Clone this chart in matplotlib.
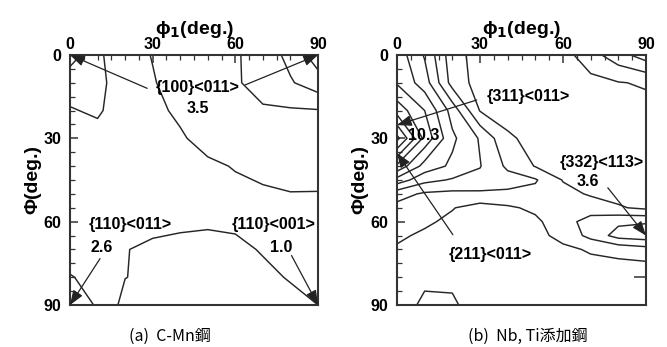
import matplotlib
matplotlib.use("Agg")
import matplotlib.pyplot as plt
import numpy as np
from matplotlib.ticker import MultipleLocator

plt.rcParams['font.family'] = ['Liberation Sans', 'DejaVu Sans']
plt.rcParams['font.weight'] = 'bold'
plt.rcParams['axes.labelweight'] = 'bold'
plt.rcParams['mathtext.default'] = 'bf'

# phi2 = 45 deg sections of the ODF, read on a coarse grid (phi1 columns, Phi rows)
phi1 = [0, 10, 20, 30, 40, 50, 60, 70, 80, 90]

# (a) C-Mn steel
Phi_a = [0, 10, 20, 30, 40, 50, 60, 70, 80, 90]
odf_a = [
    [3.5, 2.2, 1.3, 0.97, 0.8, 0.75, 0.9, 1.4, 2.3, 3.5],
    [2.3, 2.2, 1.6, 1.05, 0.7, 0.7, 0.85, 1.5, 1.9, 2.57],
    [1.95, 2.1, 1.6, 1.2, 0.85, 0.7, 0.75, 0.85, 0.9, 0.94],
    [1.7, 1.75, 1.5, 1.3, 1.1, 0.7, 0.6, 0.65, 0.7, 0.7],
    [1.6, 1.6, 1.5, 1.4, 1.3, 1.15, 0.95, 0.8, 0.75, 0.8],
    [1.5, 1.5, 1.45, 1.4, 1.35, 1.3, 1.2, 1.1, 1.02, 1.02],
    [1.5, 1.45, 1.35, 1.15, 1.1, 1.06, 1.12, 1.15, 1.15, 1.15],
    [1.6, 1.5, 1.02, 0.9, 0.85, 0.85, 0.85, 1.05, 1.15, 1.15],
    [2.05, 1.75, 1.02, 0.8, 0.75, 0.75, 0.8, 0.85, 1.05, 1.15],
    [2.6, 1.9, 0.68, 0.7, 0.7, 0.7, 0.7, 0.75, 0.8, 1.0],
]
levels_a = [1, 2, 3]

# (b) Nb, Ti added steel
Phi_b = [0, 10, 20, 30, 40, 45, 50, 55, 60, 65, 70, 80, 90]
odf_b = [
    [5.6, 3.9, 1.4, 0.6, 0.5, 0.45, 0.6, 1.6, 2.6, 3.5],
    [5.9, 4.5, 1.6, 0.6, 0.5, 0.45, 0.4, 0.7, 0.95, 1.1],
    [7.6, 6.0, 3.6, 0.95, 0.6, 0.5, 0.5, 0.5, 0.6, 0.7],
    [10.3, 6.7, 4.2, 2.9, 1.15, 0.7, 0.5, 0.5, 0.55, 0.6],
    [6.8, 4.6, 3.8, 3.05, 1.8, 0.95, 0.7, 0.7, 0.6, 0.6],
    [4.6, 3.3, 2.9, 2.7, 2.4, 2.1, 0.95, 0.8, 0.65, 0.6],
    [2.4, 1.85, 1.75, 1.8, 1.8, 1.7, 1.3, 0.9, 0.7, 0.6],
    [1.7, 1.5, 1.05, 0.6, 0.85, 1.2, 1.5, 1.5, 1.1, 0.8],
    [1.4, 1.15, 0.8, 0.6, 0.6, 0.8, 1.6, 2.4, 2.8, 2.9],
    [1.15, 0.85, 0.6, 0.5, 0.5, 0.7, 1.3, 2.3, 3.4, 3.6],
    [0.9, 0.7, 0.6, 0.5, 0.5, 0.5, 0.8, 1.1, 1.3, 1.6],
    [0.6, 0.8, 0.8, 0.5, 0.5, 0.5, 0.5, 0.5, 0.4, 0.2],
    [0.5, 1.2, 1.15, 0.5, 0.45, 0.45, 0.45, 0.4, 0.35, 0.3],
]
levels_b = [1, 2, 3, 4, 5, 6, 7, 8, 9, 10]

# ideal orientations (phi1, Phi) marked by arrows
rc_cube = [(0, 0), (90, 0)]          # {100}<011>
rc_110_011 = (0, 90)                 # {110}<011>
goss = (90, 90)                      # {110}<001>
ori_311 = (0, 25.2)                  # {311}<011>
ori_211 = (0, 35.3)                  # {211}<011>
ori_332 = (90, 65)                   # {332}<113>

line_col = '#262626'


def setup(ax, Phi, odf, levels):
    ax.contour(phi1, Phi, np.array(odf), levels=levels, colors=line_col,
               linewidths=1.05)
    ax.set_xlim(0, 90)
    ax.set_ylim(90, 0)
    ax.xaxis.set_major_locator(MultipleLocator(30))
    ax.yaxis.set_major_locator(MultipleLocator(30))
    ax.xaxis.set_minor_locator(MultipleLocator(5))
    ax.yaxis.set_minor_locator(MultipleLocator(5))
    ax.xaxis.set_label_position('top')
    ax.tick_params(which='both', direction='in', top=True, bottom=False,
                   left=True, right=False, labeltop=True, labelbottom=False,
                   color='#333333')
    ax.tick_params(which='major', length=5.5, width=1.1, labelsize=11.5, pad=2)
    ax.tick_params(axis='y', which='major', pad=6)
    ax.tick_params(which='minor', length=3.5, width=0.9)
    for s in ax.spines.values():
        s.set_linewidth(1.5)
        s.set_color('#333333')
    ax.set_xlabel('ϕ$_1$(deg.)', fontsize=14, labelpad=2)
    ax.set_ylabel('Φ(deg.)', fontsize=14, labelpad=2)


def arrow(ax, tip, tail):
    ax.annotate('', xy=tip, xytext=tail,
                arrowprops=dict(arrowstyle='-|>,head_length=0.8,head_width=0.3',
                                color='#222222', lw=0.9, mutation_scale=11,
                                shrinkA=0, shrinkB=0), annotation_clip=False)


fig = plt.figure(figsize=(6.67, 3.47), dpi=100)
ax_a = fig.add_axes([70 / 667, 42 / 347, 248 / 667, 250 / 347])
ax_b = fig.add_axes([397 / 667, 42 / 347, 249 / 667, 250 / 347])

setup(ax_a, Phi_a, odf_a, levels_a)
setup(ax_b, Phi_b, odf_b, levels_b)

fs = 11.5
# panel (a) annotations
ax_a.text(46.4, 11.7, '{100}<011>', ha='center', va='center', fontsize=fs)
ax_a.text(46.4, 19.2, '3.5', ha='center', va='center', fontsize=fs)
arrow(ax_a, rc_cube[0], (28, 12))
arrow(ax_a, rc_cube[1], (63.5, 10.8))
ax_a.text(21.7, 61, '{110}<011>', ha='center', va='center', fontsize=fs)
ax_a.text(11.6, 69.3, '2.6', ha='center', va='center', fontsize=fs)
arrow(ax_a, rc_110_011, (10.9, 73.3))
ax_a.text(73.9, 61, '{110}<001>', ha='center', va='center', fontsize=fs)
ax_a.text(76.8, 69.3, '1.0', ha='center', va='center', fontsize=fs)
arrow(ax_a, goss, (80.4, 72.2))

# panel (b) annotations
ax_b.text(47.5, 14.9, '{311}<011>', ha='center', va='center', fontsize=fs)
arrow(ax_b, ori_311, (28.8, 16.2))
ax_b.text(4.0, 29.1, '10.3', ha='left', va='center', fontsize=fs)
ax_b.text(33.6, 72, '{211}<011>', ha='center', va='center', fontsize=fs)
arrow(ax_b, ori_211, (20.2, 64.7))
ax_b.text(74, 38.8, '{332}<113>', ha='center', va='center', fontsize=fs)
ax_b.text(69, 45.6, '3.6', ha='center', va='center', fontsize=fs)
arrow(ax_b, ori_332, (76.2, 47.8))

# single tick on the right frame of (b)
sec = ax_b.secondary_yaxis('right')
sec.set_yticks([80])
sec.tick_params(direction='in', length=9, width=1.1, labelright=False,
                color='#333333')
sec.spines['right'].set_visible(False)

cap = dict(ha='center', va='center', fontsize=11.5, fontweight='normal',
           family=['Noto Sans CJK JP', 'DejaVu Sans'])
fig.text(170 / 667, 1 - 336 / 347, '(a)  C-Mn鋼', **cap)
fig.text(528 / 667, 1 - 336 / 347, '(b)  Nb, Ti添加鋼', **cap)

fig.savefig('out.png', dpi=100)
